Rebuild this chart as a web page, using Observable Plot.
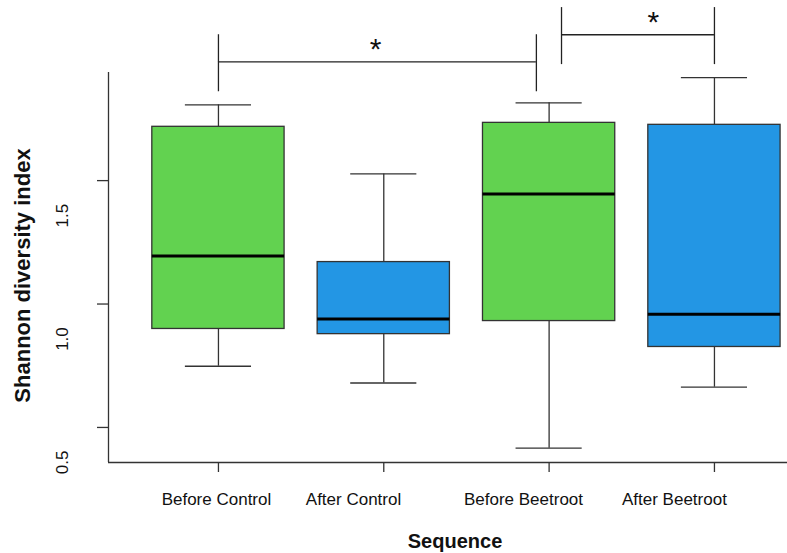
<!DOCTYPE html>
<html>
<head>
<meta charset="utf-8">
<script src="https://cdn.jsdelivr.net/npm/d3@7"></script>
<script src="https://cdn.jsdelivr.net/npm/@observablehq/plot@0.6"></script>
<style>
  html, body { margin: 0; padding: 0; background: #ffffff; }
  #chart svg { display: block; }
</style>
</head>
<body>
<div id="chart"></div>
<script>
// ---- data ----
const categories  = ["Before Control", "After Control", "Before Beetroot", "After Beetroot"];
const groupPos    = [1, 2, 3, 4];
const whiskerLow  = [0.748, 0.680, 0.416, 0.663];
const quart1      = [0.899, 0.878, 0.931, 0.826];
const medians     = [1.195, 0.939, 1.446, 0.959];
const quart3      = [1.718, 1.170, 1.734, 1.726];
const whiskerHigh = [1.807, 1.527, 1.815, 1.917];
const boxColors   = ["#62d250", "#2396e4", "#62d250", "#2396e4"];

const yTicks      = [0.5, 1.0, 1.5];
const tickLabelX  = [0.988, 1.817, 2.845, 3.758];   // where the category labels sit

// significance brackets
const bracketStart   = [1, 3.075];
const bracketEnd     = [2.923, 4];
const bracketLevel   = [1.981, 2.091];
const bracketLegLow  = [1.860, 1.970];
const bracketLegHigh = [2.091, 2.201];
const bracketStarX   = [1.95, 3.63];
const bracketText    = ["*", "*"];

// plot-region limits (R "usr")
const xLimits = [0.335, 4.66];
const yLimits = [0.358, 1.938];

// ---- tables built from the arrays ----
const boxes = categories.map((c, i) => ({
  cat: c, pos: groupPos[i], lo: whiskerLow[i], q1: quart1[i], med: medians[i],
  q3: quart3[i], hi: whiskerHigh[i], color: boxColors[i]
}));
const brackets = bracketStart.map((s, i) => ({
  start: s, end: bracketEnd[i], level: bracketLevel[i],
  legLow: bracketLegLow[i], legHigh: bracketLegHigh[i],
  starX: bracketStarX[i], label: bracketText[i]
}));
const labels = categories.map((c, i) => ({cat: c, x: tickLabelX[i]}));

const boxHalf = 0.4, capHalf = 0.2;
const lineColor = "#333";

const W = 787, H = 553;
const mLeft = 108, mTop = 72, mBottom = 91;
const unitX = (714 - 218) / 3;

const chart = Plot.plot({
  width: W,
  height: H,
  marginLeft: mLeft,
  marginTop: mTop,
  marginBottom: mBottom,
  marginRight: 0,
  style: {fontFamily: "'Liberation Sans', Arial, sans-serif", fontSize: "17px", background: "#ffffff", color: "#111"},
  x: {type: "linear", domain: xLimits, range: [mLeft, mLeft + (xLimits[1] - xLimits[0]) * unitX]},
  y: {type: "linear", domain: yLimits, range: [H - mBottom, mTop]},
  color: {type: "identity"},
  marks: [
    // frame (L-shaped)
    Plot.ruleX([xLimits[0]], {y1: yLimits[0], y2: yLimits[1], stroke: lineColor, strokeWidth: 1.3}),
    Plot.ruleY([yLimits[0]], {x1: xLimits[0], x2: xLimits[1], stroke: lineColor, strokeWidth: 1.3}),
    // y axis: ticks, then rotated labels (shifted below their ticks, as in the reference)
    Plot.axisY(yTicks, {anchor: "left", tickSize: 11, text: null, label: null, stroke: lineColor, strokeWidth: 1.3}),
    Plot.axisY(yTicks, {
      anchor: "left", tickSize: 0, tickPadding: 46, rotate: -90,
      textAnchor: "middle", lineAnchor: "middle", dy: 35,
      tickFormat: d3.format(".1f"), label: null, fontSize: 17
    }),
    // x axis ticks only
    Plot.axisX(groupPos, {anchor: "bottom", tickSize: 10, text: null, label: null, stroke: lineColor, strokeWidth: 1.3}),
    // category labels
    Plot.text(labels, {x: "x", text: "cat", frameAnchor: "bottom", dy: 37, fontSize: 17, lineAnchor: "middle"}),
    // axis titles
    Plot.text(["Sequence"], {text: d => d, frameAnchor: "bottom", textAnchor: "middle", lineAnchor: "middle", dx: 7, dy: 79, fontSize: 20, fontWeight: "bold"}),
    Plot.text(["Shannon diversity index"], {text: d => d, frameAnchor: "left", textAnchor: "middle", lineAnchor: "middle", rotate: -90, dx: -86, dy: 8, fontSize: 22, fontWeight: "bold"}),
    // whiskers
    Plot.ruleX(boxes, {x: "pos", y1: "q3", y2: "hi", stroke: lineColor, strokeWidth: 1.3}),
    Plot.ruleX(boxes, {x: "pos", y1: "lo", y2: "q1", stroke: lineColor, strokeWidth: 1.3}),
    Plot.ruleY(boxes, {y: "hi", x1: d => d.pos - capHalf, x2: d => d.pos + capHalf, stroke: lineColor, strokeWidth: 1.3}),
    Plot.ruleY(boxes, {y: "lo", x1: d => d.pos - capHalf, x2: d => d.pos + capHalf, stroke: lineColor, strokeWidth: 1.3}),
    // boxes
    Plot.rect(boxes, {x1: d => d.pos - boxHalf, x2: d => d.pos + boxHalf, y1: "q1", y2: "q3", fill: "color", stroke: lineColor, strokeWidth: 1.3}),
    // medians
    Plot.ruleY(boxes, {y: "med", x1: d => d.pos - boxHalf, x2: d => d.pos + boxHalf, stroke: "#000", strokeWidth: 3}),
    // significance brackets
    Plot.ruleY(brackets, {y: "level", x1: "start", x2: "end", stroke: "#222", strokeWidth: 1.3}),
    Plot.ruleX(brackets, {x: "start", y1: "legLow", y2: "legHigh", stroke: "#222", strokeWidth: 1.3}),
    Plot.ruleX(brackets, {x: "end", y1: "legLow", y2: "legHigh", stroke: "#222", strokeWidth: 1.3}),
    Plot.text(brackets, {x: "starX", y: "level", text: "label", dy: -12, fontSize: 30, lineAnchor: "middle"})
  ]
});
document.getElementById("chart").appendChild(chart);
</script>
</body>
</html>
